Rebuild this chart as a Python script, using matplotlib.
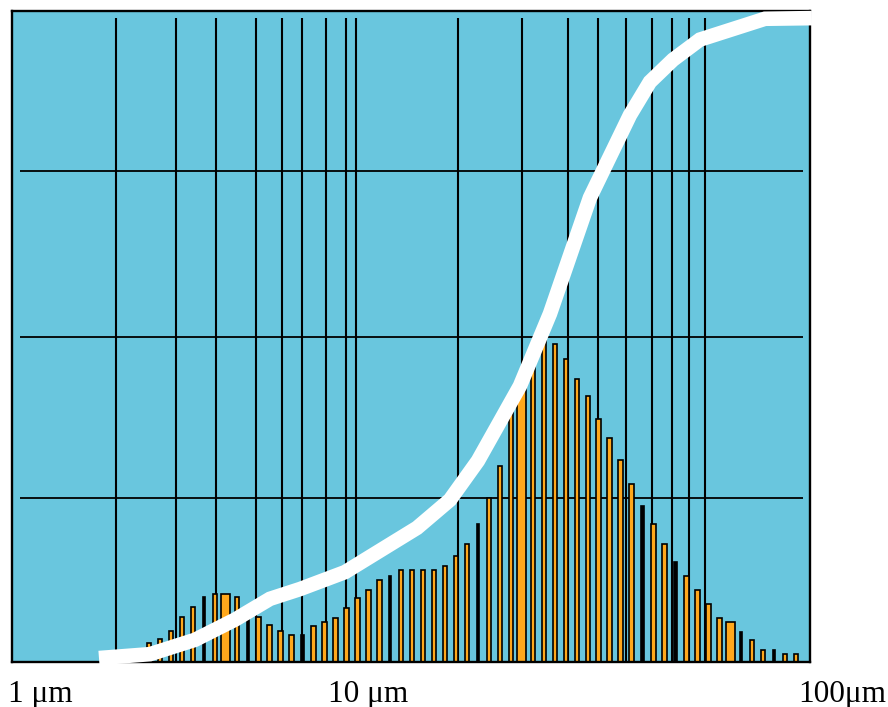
"""
Particle size distribution: frequency bars per size class with the
cumulative curve drawn over them.  Saves out.png.
"""
import numpy as np
import matplotlib.pyplot as plt

# frequency per size class (% of full scale), one value per analyser channel
freq = [1.7, 2.0, 2.9, 3.5, 4.8, 6.9, 8.4, 10.0, 10.4, 10.4,
        10.0, 6.9, 6.9, 5.7, 4.8, 4.1, 4.1, 5.5, 6.1, 6.8,
        8.3, 9.8, 11.1, 12.6, 13.2, 14.1, 14.1, 14.1, 14.1, 14.7,
        16.3, 18.1, 21.2, 25.2, 30.1, 38.4, 42.7, 46.1, 49.5, 48.8,
        46.5, 43.5, 40.9, 37.3, 34.4, 31.0, 27.3, 24.0, 21.2, 18.1,
        15.4, 13.2, 11.1, 8.9, 6.8, 6.1, 4.6, 3.4, 1.8, 1.8,
        1.2, 1.2]

# cumulative curve (channel, % undersize)
cum_x = [-2.56, 2.09, 6.19, 9.84, 13.03, 15.77, 19.87, 26.44, 29.44, 31.99,
         35.82, 38.56, 42.20, 45.85, 47.67, 49.77, 52.23, 58.16, 62.44]
cum_pct = [0.6, 1.2, 3.4, 6.5, 9.7, 11.2, 13.8, 20.6, 24.9, 30.9,
           42.4, 53.5, 71.3, 84.0, 89.1, 92.5, 95.6, 98.8, 98.9]

# grid: size marks (in channel units) and horizontal levels
grid_x = [-1.01, 4.46, 8.11, 11.76, 14.13, 15.95, 18.14, 19.96, 20.88,
          30.17, 36.01, 40.20, 42.94, 45.49, 47.86, 49.68, 51.23, 52.69]
grid_y = [25.2, 49.9, 75.4]

size_labels = ["1 μm", "10 μm", "100μm"]

# bar styles
BLACK_BARS = [7, 11, 16, 24, 32, 47, 50, 56, 59]
WIDE_BARS = [0, 9, 36, 55]
ORANGE = "#FFA81C"
BG = "#69C6DE"

fig = plt.figure(figsize=(8.88, 7.07), dpi=100)
ax = fig.add_axes([0.0135, 0.0637, 0.8986, 0.9208])
ax.set_facecolor(BG)
ax.set_xlim(-10.49, 62.26)
ax.set_ylim(0, 100)
ax.set_xticks([])
ax.set_yticks([])
for sp in ax.spines.values():
    sp.set_linewidth(1.7)

ax.hlines(grid_y, -9.76, 61.62, color="black", linewidth=1.3, zorder=1)
ax.vlines(grid_x, 0, 98.85, color="black", linewidth=1.5, zorder=1)

ind = np.arange(len(freq))
widths = []
colors = []
for i in ind:
    if i in WIDE_BARS:
        widths.append(0.82)
        colors.append(ORANGE)
    elif i in BLACK_BARS:
        widths.append(0.2)
        colors.append("black")
    else:
        widths.append(0.4)
        colors.append(ORANGE)
ax.bar(ind, freq, width=widths, color=colors, edgecolor="black",
       linewidth=1.2, zorder=2)

ax.plot(cum_x, cum_pct, color="white", linewidth=10.5, solid_joinstyle="miter",
        solid_capstyle="butt", zorder=3, clip_on=False)

# size labels under the frame
for lab, xpos in zip(size_labels, [0.009, 0.369, 0.899]):
    fig.text(xpos, 0.0075, lab, fontsize=22.5, family="Liberation Serif",
             va="baseline", ha="left")

fig.savefig("out.png", dpi=100)
